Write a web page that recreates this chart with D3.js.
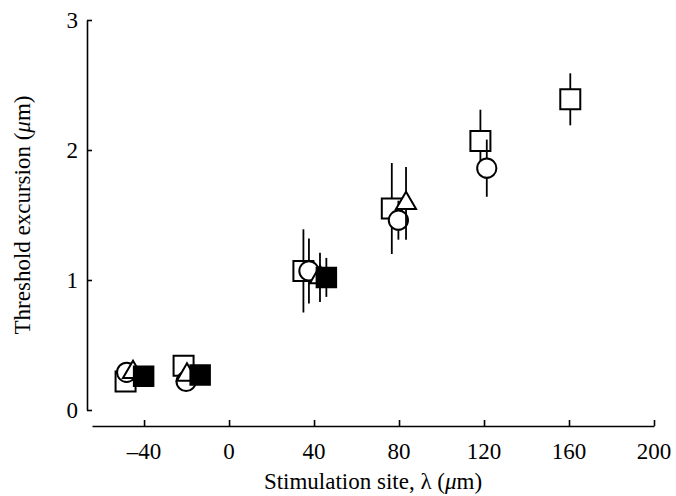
<!DOCTYPE html>
<html>
<head>
<meta charset="utf-8">
<script src="https://cdn.jsdelivr.net/npm/d3@7"></script>
<style>
	body { margin: 0; background: #fff; }
	text { font-family: "Liberation Serif", "DejaVu Serif", serif; fill: #000; }
</style>
</head>
<body>
<div id="chart"></div>
<script>
// x = stimulation site (um), y = threshold excursion (um), e = error half-length
let openSquare = [
	{x: -48.7, y: 0.22, e: 0},
	{x: -21.4, y: 0.34, e: 0},
	{x: 35.0, y: 1.07, e: 0.32},
	{x: 76.6, y: 1.55, e: 0.35},
	{x: 118.3, y: 2.07, e: 0.24},
	{x: 160.6, y: 2.39, e: 0.20}
];
let openCircle = [
	{x: -48.2, y: 0.29, e: 0},
	{x: -20.2, y: 0.22, e: 0},
	{x: 37.6, y: 1.07, e: 0.25},
	{x: 79.7, y: 1.46, e: 0.15},
	{x: 121.3, y: 1.86, e: 0.22}
];
let openTriangle = [
	{x: -45.2, y: 0.29, e: 0},
	{x: -19.8, y: 0.27, e: 0},
	{x: 42.8, y: 1.02, e: 0.19},
	{x: 83.3, y: 1.59, e: 0.28}
];
let filledSquare = [
	{x: -40.2, y: 0.26, e: 0},
	{x: -13.6, y: 0.27, e: 0},
	{x: 45.8, y: 1.02, e: 0.15}
];
let xTicks = [-40, 0, 40, 80, 120, 160, 200];
let yTicks = [0, 1, 2, 3];

function chart() {
	let width = 676, height = 496;

	let svg = d3.select("#chart")
		.append("svg")
		.attr("width", width)
		.attr("height", height);

	let x = d3.scaleLinear()
		.domain([-64.5, 200])
		.range([92, 654]);

	let y = d3.scaleLinear()
		.domain([0, 3])
		.range([410, 20]);

	// y axis (ticks pointing inward)
	let yAxis = svg.append("g")
		.attr("transform", "translate(87,0)")
		.call(d3.axisRight(y).tickValues(yTicks).tickSize(5).tickSizeOuter(0).tickFormat(""));
	yAxis.select(".domain").attr("stroke-width", 1.6);
	yAxis.selectAll(".tick line").attr("stroke-width", 1.6);

	svg.append("g").selectAll("text")
		.data(yTicks)
		.enter()
		.append("text")
		.attr("x", 78)
		.attr("y", d => y(d) + 8)
		.attr("text-anchor", "end")
		.style("font-size", "23px")
		.text(d => d);

	// x axis, detached below the plot
	let xAxis = svg.append("g")
		.attr("transform", "translate(0,426)")
		.call(d3.axisTop(x).tickValues(xTicks).tickSize(6).tickSizeOuter(0).tickFormat(""));
	xAxis.select(".domain").attr("stroke-width", 1.6);
	xAxis.selectAll(".tick line").attr("stroke-width", 1.6);

	svg.append("g").selectAll("text")
		.data(xTicks)
		.enter()
		.append("text")
		.attr("x", d => x(d))
		.attr("y", 459)
		.attr("text-anchor", "middle")
		.style("font-size", "23px")
		.text(d => d < 0 ? "\u2013" + Math.abs(d) : d);

	// axis titles
	let xt = svg.append("text")
		.attr("x", 373)
		.attr("y", 489)
		.attr("text-anchor", "middle")
		.style("font-size", "23px");
	xt.append("tspan").text("Stimulation site, \u03bb (");
	xt.append("tspan").style("font-style", "italic").text("\u03bc");
	xt.append("tspan").text("m)");

	let yt = svg.append("text")
		.attr("transform", "translate(30,215) rotate(-90)")
		.attr("text-anchor", "middle")
		.style("font-size", "23px");
	yt.append("tspan").text("Threshold excursion (");
	yt.append("tspan").style("font-style", "italic").text("\u03bc");
	yt.append("tspan").text("m)");

	let plot = svg.append("g").attr("class", "points");

	let series = [
		{data: openSquare, shape: d3.symbolSquare, size: 400, fill: "#fff"},
		{data: openCircle, shape: d3.symbolCircle, size: 290, fill: "#fff"},
		{data: openTriangle, shape: d3.symbolTriangle, size: 175, fill: "#fff"},
		{data: filledSquare, shape: d3.symbolSquare, size: 380, fill: "#000"}
	];

	series.forEach(function (s) {
		let g = plot.append("g");

		g.selectAll("line")
			.data(s.data.filter(d => d.e > 0))
			.enter()
			.append("line")
			.attr("x1", d => x(d.x))
			.attr("x2", d => x(d.x))
			.attr("y1", d => y(d.y + d.e))
			.attr("y2", d => y(d.y - d.e))
			.attr("stroke", "#000")
			.attr("stroke-width", 1.8);

		g.selectAll("path")
			.data(s.data)
			.enter()
			.append("path")
			.attr("transform", d => "translate(" + x(d.x) + "," + y(d.y) + ")")
			.attr("d", d3.symbol().type(s.shape).size(s.size))
			.attr("fill", s.fill)
			.attr("stroke", "#000")
			.attr("stroke-width", 2);
	});
}

chart();
</script>
</body>
</html>
